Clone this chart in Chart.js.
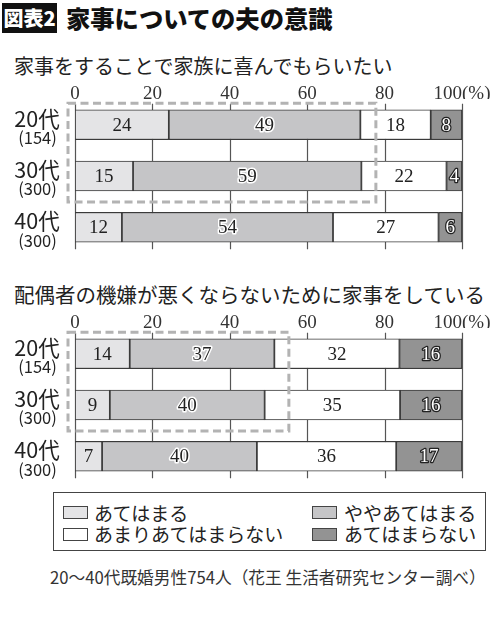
<!DOCTYPE html>
<html><head><meta charset="utf-8">
<script src="https://cdn.jsdelivr.net/npm/chart.js@4.4.1/dist/chart.umd.min.js"></script>
<style>
body{margin:0;width:500px;height:619px;background:#fff;position:relative;overflow:hidden;font-family:"Noto Sans CJK JP",sans-serif;color:#222}
.abs{position:absolute;white-space:nowrap}
#badge{left:2px;top:3px;width:55px;height:30px;background:#111;color:#fff;font-weight:900;font-size:20px;line-height:30px;text-align:center}
#title{left:66px;top:2px;font-size:24.3px;font-weight:900;line-height:32px;color:#111}
.sub{left:14px;line-height:24px;color:#222}
.cbox{left:0;width:500px;height:200px}
#legend{left:53px;top:492px;width:431px;height:57px;border:1px solid #444}
.li{position:absolute;font-size:19px;line-height:22px;white-space:nowrap}
.sw{position:absolute;width:23px;height:11px;border:1px solid #444}
#note{left:50px;top:566px;font-size:16.7px;line-height:22px;color:#333}
</style></head>
<body>
<div id="badge" class="abs">図表2</div>
<div id="title" class="abs"></div>
<div id="sub1" class="abs sub" style="top:54px;font-size:20px"></div>
<div id="sub2" class="abs sub" style="top:282px;font-size:20.5px"></div>
<div class="abs cbox" style="top:60px"><canvas id="c1" width="500" height="200"></canvas></div>
<div class="abs cbox" style="top:289px"><canvas id="c2" width="500" height="200"></canvas></div>
<div id="legend" class="abs"></div>
<div id="note" class="abs"></div>
<script>
const mainTitle='家事についての夫の意識';
const categories=['20代','30代','40代'];
const sampleSizes=['(154)','(300)','(300)'];
const seriesNames=['あてはまる','ややあてはまる','あまりあてはまらない','あてはまらない'];
const seriesColors=['#e4e4e6','#c5c5c7','#ffffff','#939393'];
const xTicks=[0,20,40,60,80,100];
const q1Title='家事をすることで家族に喜んでもらいたい';
const q1Agree=[24,15,12];
const q1SomewhatAgree=[49,59,54];
const q1SomewhatDisagree=[18,22,27];
const q1Disagree=[8,4,6];
const q2Title='配偶者の機嫌が悪くならないために家事をしている';
const q2Agree=[14,9,7];
const q2SomewhatAgree=[37,40,40];
const q2SomewhatDisagree=[32,35,36];
const q2Disagree=[16,16,17];
const boxedRows=[0,1];
const sourceNote='20〜40代既婚男性754人（花王 生活者研究センター調べ）';

document.getElementById('title').textContent=mainTitle;
document.getElementById('sub1').textContent=q1Title;
document.getElementById('sub2').textContent=q2Title;
document.getElementById('note').textContent=sourceNote;

// legend
(function(){
  const lg=document.getElementById('legend');
  const pos=[[0,0],[1,0],[0,1],[1,1]];
  const colX=[[9,40],[258,290]];
  const rowY=[19.5,41];
  seriesNames.forEach((name,k)=>{
    const c=pos[k][0], r=pos[k][1];
    const sw=document.createElement('div');sw.className='sw';
    sw.style.left=colX[c][0]+'px';sw.style.top=(rowY[r]-6.5)+'px';sw.style.background=seriesColors[k];
    lg.appendChild(sw);
    const t=document.createElement('div');t.className='li';
    t.style.left=colX[c][1]+'px';t.style.top=(rowY[r]-11)+'px';t.textContent=name;
    lg.appendChild(t);
  });
})();

const SERIF='"Liberation Serif","DejaVu Serif",serif';
const SANS='"Noto Sans CJK JP",sans-serif';

const gridPlugin={
  id:'grid2',
  beforeDatasetsDraw(chart){
    const ctx=chart.ctx,xs=chart.scales.x;
    const m=chart.getDatasetMeta(0).data;
    const first=m[0],last=m[m.length-1];
    const top=first.y-first.height/2-6, bot=last.y+last.height/2+7;
    ctx.save();ctx.strokeStyle='#555';ctx.lineWidth=1.2;
    xTicks.forEach(v=>{const px=Math.round(xs.getPixelForValue(v))+0.5;ctx.beginPath();ctx.moveTo(px,top);ctx.lineTo(px,bot);ctx.stroke();});
    ctx.restore();
  },
  afterDatasetsDraw(chart){
    const ctx=chart.ctx,xs=chart.scales.x;
    const m0=chart.getDatasetMeta(0).data, m1=chart.getDatasetMeta(1).data;
    let maxX=0;
    boxedRows.forEach(i=>{maxX=Math.max(maxX,m1[i].x);});
    const a=m0[boxedRows[0]], b=m0[boxedRows[boxedRows.length-1]];
    const left=xs.getPixelForValue(0)-7, right=maxX+14.5;
    const top=a.y-a.height/2-6.5, bot=b.y+b.height/2+11;
    ctx.save();ctx.strokeStyle='#b3b3b3';ctx.lineWidth=3;ctx.setLineDash([8,4.5]);
    ctx.strokeRect(left,top,right-left,bot-top);
    ctx.restore();
    ctx.save();ctx.font='19px '+SERIF;ctx.textAlign='center';ctx.textBaseline='middle';
    chart.data.datasets.forEach((ds,k)=>{
      chart.getDatasetMeta(k).data.forEach((el,i)=>{
        const cx=(el.x+el.base)/2, cy=el.y+1;
        const txt=String(ds.rawValues[i]);
        ctx.lineJoin='round';
        if(k===1){ctx.strokeStyle='#fff';ctx.lineWidth=3;ctx.strokeText(txt,cx,cy);ctx.fillStyle='#222';ctx.fillText(txt,cx,cy);}
        else if(k===3){ctx.strokeStyle='#222';ctx.lineWidth=2.5;ctx.strokeText(txt,cx,cy);ctx.fillStyle='#fff';ctx.fillText(txt,cx,cy);}
        else {ctx.fillStyle='#222';ctx.fillText(txt,cx,cy);}
      });
    });
    ctx.restore();
  },
  afterDraw(chart){
    const ctx=chart.ctx,ys=chart.scales.y;
    ctx.save();ctx.fillStyle='#222';ctx.textAlign='center';ctx.textBaseline='middle';
    categories.forEach((c,i)=>{
      const y=ys.getPixelForValue(i);
      ctx.font='21.5px '+SANS;ctx.fillText(c,37,y-6);
      ctx.font='16.5px '+SANS;ctx.fillText(sampleSizes[i],37.5,y+13);
    });
    ctx.restore();
  }
};

function makeChart(id,series){
  const totals=categories.map((_,i)=>series.reduce((s,a)=>s+a[i],0));
  return new Chart(document.getElementById(id),{
    type:'bar',
    data:{labels:categories,datasets:series.map((vals,k)=>({
      label:seriesNames[k],
      data:vals.map((v,i)=>v/totals[i]*100),
      rawValues:vals,
      backgroundColor:seriesColors[k],
      borderColor:'#3a3a3a',borderWidth:1.2,borderSkipped:false,
      barThickness:30
    }))},
    options:{
      indexAxis:'y',responsive:false,animation:false,events:[],
      layout:{padding:{left:75,right:38,top:19.1,bottom:7.1}},
      plugins:{legend:{display:false},tooltip:{enabled:false}},
      scales:{
        x:{type:'linear',position:'top',min:0,max:100,stacked:true,
          grid:{display:false,drawTicks:false},border:{display:false},
          afterBuildTicks:s=>{s.ticks=xTicks.map(v=>({value:v}));},
          afterFit:s=>{s.height=20;},
          ticks:{font:{family:SERIF,size:19},color:'#333',padding:-6.2,maxRotation:0,autoSkip:false,
            callback:v=>v===100?'100(%)':String(v)}},
        y:{stacked:true,display:false}
      }
    },
    plugins:[gridPlugin]
  });
}
makeChart('c1',[q1Agree,q1SomewhatAgree,q1SomewhatDisagree,q1Disagree]);
makeChart('c2',[q2Agree,q2SomewhatAgree,q2SomewhatDisagree,q2Disagree]);
</script>
</body></html>
